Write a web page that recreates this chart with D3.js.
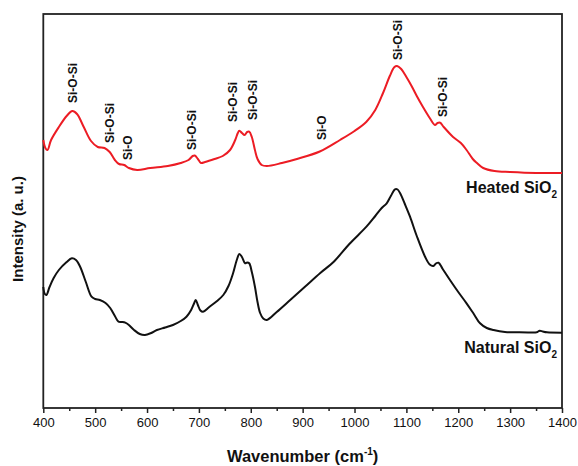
<!DOCTYPE html>
<html>
<head>
<meta charset="utf-8">
<script src="https://cdn.jsdelivr.net/npm/d3@7/dist/d3.min.js"></script>
<style>
  html, body { margin: 0; padding: 0; background: #ffffff; }
  svg { display: block; font-family: "Liberation Sans", Arial, sans-serif; }
</style>
</head>
<body>
<svg id="chart" width="578" height="466"></svg>
<script>
// Raman spectra of heated and natural SiO2 (arbitrary intensity units)
const heatedWavenumber = [400,404,408,415,430,445,456,465,478,492,505,518,528,538,546,556,565,581,606,640,665,680,688,692,698,704,712,730,746,760,770,775,778,783,788,793,797,802,808,813,821,831,860,889,933,972,1000,1023,1040,1055,1068,1077,1082,1090,1100,1110,1120,1132,1145,1155,1160,1165,1172,1190,1205,1216,1228,1236,1248,1270,1300,1350,1400];
const heatedIntensity = [268,260,258,268,281,292,297,294,281,267,261,260,256,248,244,243,240,238,240,242,245,248,252,252.5,249,245,246,249,252,258,268,275,277.3,275,273,276,276.3,271,258,249,243,242,245,249,256.5,268,277,286.3,298,315,332,341,342,339,331,322,312,301,290,283,285,285.3,281,271,265,258,249,245,240,237,236,235,235];

const naturalWavenumber = [400,403,406,412,420,430,445,455,463,471,482,493,500,509,520,529,538,545,552,558,565,575,586,596,608,619,635,650,665,676,685,691,694,698,703,708,720,735,747,757,766,773,778,783,789,793,797,802,808,813,818,824,831,850,876,905,934,960,990,1023,1040,1052,1062,1070,1078,1083,1088,1097,1107,1120,1136,1145,1152,1157,1162,1170,1184,1200,1216,1230,1242,1255,1268,1290,1313,1340,1351,1357,1363,1371,1400];
const naturalIntensity = [121,114,113,121,130,138,146,149.7,148,141.3,126,111.3,109,108,105,100,92,86.3,86,85.3,83,78,74,73,75,78,80.5,83,87,91.3,98,105,108,103,97.5,96.3,101,107,113,122,135,148,154,151,144.7,145.5,144.7,136,121.3,106,95,89.5,88,96,108,121.5,135,146.3,164,181.3,192,199.7,204.7,212,218.7,218.5,214.7,204,191.3,172,151.3,143.5,142,144.5,145.3,139,128,116,104.7,94,84.7,80,78,76,75.7,75.5,75.7,77.3,76.5,75.7,75.3];

// Band assignments: text, wavenumber, intensity where the label starts
const bandLabels = ["Si-O-Si","Si-O-Si","Si-O","Si-O-Si","Si-O-Si","Si-O-Si","Si-O","Si-O-Si","Si-O-Si"];
const bandWavenumber = [457,529,563,687,766,804,937,1084,1171];
const bandIntensity = [305,265,248,258,286,288,268,348,291];

const seriesNames = ["Heated SiO", "Natural SiO"];
const seriesIntensityAt = [215, 55];   // label baselines, a.u.

const xMajorTicks = [400,500,600,700,800,900,1000,1100,1200,1300,1400];
const xMinorTicks = [450,550,650,750,850,950,1050,1150,1250,1350];

const svg = d3.select("#chart");
const plot = { left: 43.3, right: 562, top: 14, bottom: 408 };

const x = d3.scaleLinear().domain([400, 1400]).range([plot.left, plot.right]);
const y = d3.scaleLinear().domain([0, 394]).range([plot.bottom, plot.top]);

// Frame
svg.append("rect")
  .attr("x", plot.left).attr("y", plot.top)
  .attr("width", plot.right - plot.left).attr("height", plot.bottom - plot.top)
  .attr("fill", "none").attr("stroke", "#222").attr("stroke-width", 1.8);

// Bottom axis: major ticks with labels, minor ticks without
const axisMajor = d3.axisBottom(x).tickValues(xMajorTicks).tickSize(5).tickSizeOuter(0).tickFormat(d3.format("d"));
const gx = svg.append("g").attr("transform", `translate(0,${plot.bottom})`).call(axisMajor);
gx.select(".domain").remove();
gx.selectAll(".tick line").attr("stroke", "#222").attr("stroke-width", 1.5);
gx.selectAll(".tick text").attr("font-size", 13).attr("fill", "#111")
  .attr("font-family", "'Liberation Sans', Arial, sans-serif").attr("y", 10).attr("dy", "0.71em");

const axisMinor = d3.axisBottom(x).tickValues(xMinorTicks).tickSize(3).tickSizeOuter(0).tickFormat("");
const gxm = svg.append("g").attr("transform", `translate(0,${plot.bottom})`).call(axisMinor);
gxm.select(".domain").remove();
gxm.selectAll(".tick line").attr("stroke", "#222").attr("stroke-width", 1.5);

// Spectra
const line = d3.line().x(d => x(d[0])).y(d => y(d[1])).curve(d3.curveCatmullRom.alpha(0.5));
const heated = d3.zip(heatedWavenumber, heatedIntensity);
const natural = d3.zip(naturalWavenumber, naturalIntensity);

svg.append("path").datum(natural).attr("d", line)
  .attr("fill", "none").attr("stroke", "#111").attr("stroke-width", 2).attr("stroke-linejoin", "round");
svg.append("path").datum(heated).attr("d", line)
  .attr("fill", "none").attr("stroke", "#ec1c24").attr("stroke-width", 2).attr("stroke-linejoin", "round");

// Band labels, rotated
svg.append("g").selectAll("text").data(bandLabels).join("text")
  .attr("transform", (d, i) => `translate(${x(bandWavenumber[i])},${y(bandIntensity[i])}) rotate(-90)`)
  .attr("dy", "0.35em")
  .attr("font-size", 12).attr("font-weight", "bold").attr("fill", "#111")
  .text(d => d);

// Series names with subscript
seriesNames.forEach((name, i) => {
  const t = svg.append("text")
    .attr("x", 557).attr("y", y(seriesIntensityAt[i]))
    .attr("text-anchor", "end").attr("font-size", 16).attr("font-weight", "bold").attr("fill", "#111");
  t.append("tspan").text(name);
  t.append("tspan").attr("font-size", 10).attr("dy", 5).text("2");
});

// Axis titles
const xt = svg.append("text")
  .attr("x", (plot.left + plot.right) / 2).attr("y", 462)
  .attr("text-anchor", "middle").attr("font-size", 16.5).attr("font-weight", "bold").attr("fill", "#111");
xt.append("tspan").text("Wavenumber (cm");
xt.append("tspan").attr("font-size", 10).attr("dy", -7).text("-1");
xt.append("tspan").attr("dy", 7).text(")");

svg.append("text")
  .attr("transform", "translate(23,229) rotate(-90)")
  .attr("text-anchor", "middle").attr("font-size", 15).attr("font-weight", "bold").attr("fill", "#111")
  .text("Intensity (a. u.)");
</script>
</body>
</html>
